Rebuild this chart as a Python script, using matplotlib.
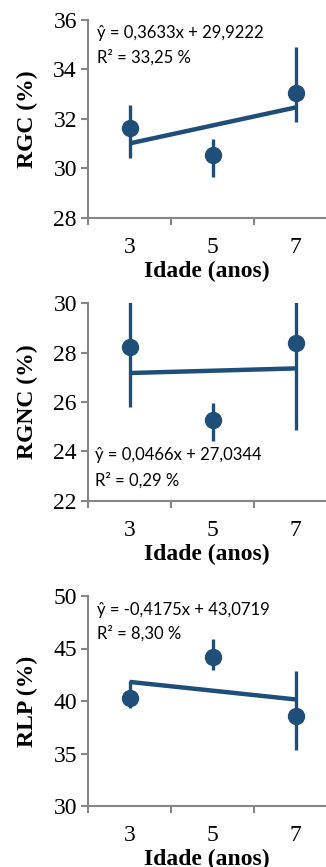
import numpy as np
import matplotlib
matplotlib.use("Agg")
import matplotlib.pyplot as plt

# --- data ---
idade = [3, 5, 7]

rgc_mean = [31.62, 30.55, 33.06]
rgc_low = [30.41, 29.67, 31.89]
rgc_high = [32.57, 31.18, 34.92]

rgnc_mean = [28.22, 25.27, 28.41]
rgnc_low = [25.81, 24.43, 24.86]
rgnc_high = [30.63, 25.95, 31.96]

rlp_mean = [40.25, 44.22, 38.57]
rlp_low = [39.30, 42.95, 35.33]
rlp_high = [41.90, 45.87, 42.89]

slopes = [0.3633, 0.0466, -0.4175]
intercepts = [29.9222, 27.0344, 43.0719]
eq_labels = ["ŷ = 0,3633x + 29,9222", "ŷ = 0,0466x + 27,0344", "ŷ = -0,4175x + 43,0719"]
r2_labels = ["R² = 33,25 %", "R² = 0,29 %", "R² = 8,30 %"]
ylabels = ["RGC (%)", "RGNC (%)", "RLP (%)"]
ylims = [(28, 36), (22, 30), (30, 50)]
yticks = [np.arange(28, 37, 2), np.arange(22, 31, 2), np.arange(30, 51, 5)]

means = [rgc_mean, rgnc_mean, rlp_mean]
lows = [rgc_low, rgnc_low, rlp_low]
highs = [rgc_high, rgnc_high, rlp_high]

# --- layout (figure fractions) ---
W, H = 326, 867
boxes = [(20, 218), (303.3, 500.7), (596, 806)]     # top, bottom in px
text_pos = [(0.038, 0.934, 0.813), (0.030, 0.232, 0.105), (0.036, 0.933, 0.822)]

blue = "#1F4E79"
gray = "#868686"

fig = plt.figure(figsize=(W / 100, H / 100), dpi=100)

for i in range(3):
    top, bot = boxes[i]
    ax = fig.add_axes([88 / W, 1 - bot / H, 1 - 88 / W, (bot - top) / H])
    m = np.array(means[i])
    lo = m - np.array(lows[i])
    hi = np.array(highs[i]) - m
    ax.errorbar(idade, m, yerr=[lo, hi], fmt="o", color=blue, ms=11.5,
                elinewidth=2.4, capsize=0, zorder=3)
    xl = np.array([3, 7])
    ax.plot(xl, slopes[i] * xl + intercepts[i], color=blue, lw=3.2,
            solid_capstyle="butt", zorder=4)

    ax.set_xlim(2, 2 + 238 / 41.5)
    ax.set_ylim(*ylims[i])
    ax.set_yticks(yticks[i])
    ax.set_xticks([2, 4, 6])
    ax.set_xticklabels([])
    ax.set_xticks(idade, minor=True)
    ax.set_xticklabels([str(v) for v in idade], minor=True,
                       family="Liberation Serif", fontsize=17)
    ax.tick_params(axis="x", which="minor", length=0, pad=14)
    ax.tick_params(axis="x", which="major", length=5, width=1.5, color=gray)
    ax.tick_params(axis="y", length=5, width=1.5, color=gray, pad=3,
                   labelsize=17)
    for lab in ax.get_yticklabels():
        lab.set_family("Liberation Serif")

    for s in ["top", "right"]:
        ax.spines[s].set_visible(False)
    for s in ["left", "bottom"]:
        ax.spines[s].set_color(gray)
        ax.spines[s].set_linewidth(1.5)

    ax.set_ylabel(ylabels[i], family="Liberation Serif", fontweight="bold",
                  fontsize=17, labelpad=11)
    ax.set_xlabel("Idade (anos)", family="Liberation Serif", fontweight="bold",
                  fontsize=17, labelpad=2)

    tx, t1, t2 = text_pos[i]
    ax.text(tx, t1, eq_labels[i], transform=ax.transAxes, va="center",
            ha="left", fontsize=12, family=["Lato", "DejaVu Sans"])
    ax.text(tx, t2, r2_labels[i], transform=ax.transAxes, va="center",
            ha="left", fontsize=12, family=["Lato", "DejaVu Sans"])

fig.savefig("out.png", dpi=100)
